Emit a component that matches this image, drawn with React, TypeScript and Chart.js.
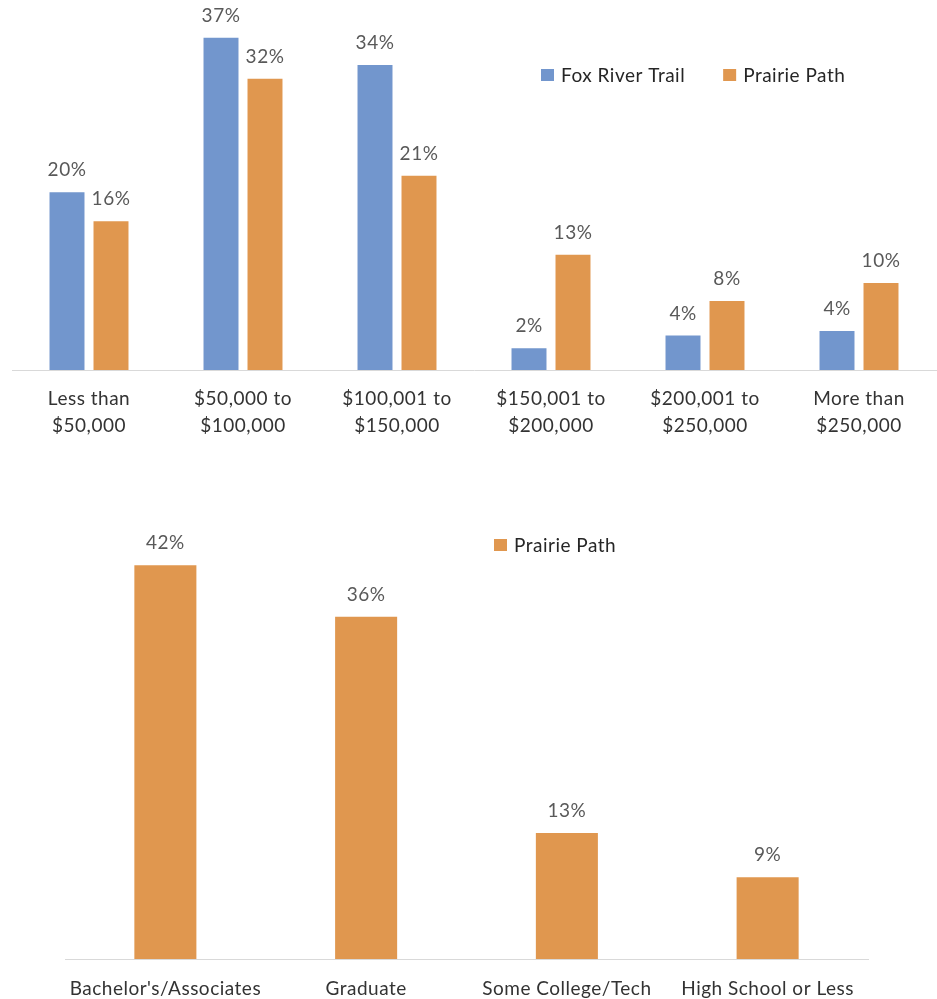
import React, { useEffect, useRef } from "react";
import { Chart, registerables } from "chart.js";

Chart.register(...registerables);

// ---------- Data ----------
const incomeCategories: string[][] = [
  ["Less than", "$50,000"],
  ["$50,000 to", "$100,000"],
  ["$100,001 to", "$150,000"],
  ["$150,001 to", "$200,000"],
  ["$200,001 to", "$250,000"],
  ["More than", "$250,000"],
];
const foxRiverIncome = [19.6, 36.6, 33.6, 2.4, 3.8, 4.3];
const prairieIncome = [16.4, 32.1, 21.4, 12.7, 7.6, 9.6];

const educationCategories = [
  "Bachelor's/Associates",
  "Graduate",
  "Some College/Tech",
  "High School or Less",
];
const prairieEducation = [41.9, 36.4, 13.4, 8.7];

const seriesNames = ["Fox River Trail", "Prairie Path"];
const BLUE = "#7296CD";
const ORANGE = "#E0974F";
const FONT = "Lato, 'Noto Sans', sans-serif";
const FONT_SIZE = 19;
const SPACING = "0.5px";

// ---------- Plugins ----------
const spacingPlugin = {
  id: "letterSpacing",
  beforeInit(chart: any) {
    chart.ctx.letterSpacing = SPACING;
  },
  beforeDraw(chart: any) {
    chart.ctx.letterSpacing = SPACING;
  },
};

const dataLabelPlugin = {
  id: "pctLabels",
  afterDatasetsDraw(chart: any) {
    const ctx = chart.ctx;
    ctx.save();
    ctx.letterSpacing = SPACING;
    ctx.font = `${FONT_SIZE}px ${FONT}`;
    ctx.fillStyle = "#595959";
    ctx.textAlign = "center";
    ctx.textBaseline = "middle";
    chart.data.datasets.forEach((ds: any, i: number) => {
      const meta = chart.getDatasetMeta(i);
      meta.data.forEach((bar: any, j: number) => {
        const v = ds.data[j];
        ctx.fillText(`${Math.round(v)}%`, bar.x, bar.y - 22);
      });
    });
    ctx.restore();
  },
};

const customLegendPlugin = {
  id: "customLegend",
  afterDraw(chart: any, _args: any, opts: any) {
    const ctx = chart.ctx;
    ctx.save();
    ctx.letterSpacing = SPACING;
    ctx.font = `${FONT_SIZE}px ${FONT}`;
    ctx.textBaseline = "middle";
    ctx.textAlign = "left";
    let x = opts.x;
    const y = opts.y;
    chart.data.datasets.forEach((ds: any) => {
      ctx.fillStyle = ds.backgroundColor;
      ctx.fillRect(x, y - 6, 13, 12);
      ctx.fillStyle = "#262626";
      ctx.fillText(ds.label, x + 20, y + 1);
      x += 20 + ctx.measureText(ds.label).width + 38;
    });
    ctx.restore();
  },
};

function IncomeChart() {
  const ref = useRef<HTMLCanvasElement>(null);
  useEffect(() => {
    const chart = new Chart(ref.current!, {
      type: "bar",
      data: {
        labels: incomeCategories,
        datasets: [
          { label: seriesNames[0], data: foxRiverIncome, backgroundColor: BLUE },
          { label: seriesNames[1], data: prairieIncome, backgroundColor: ORANGE },
        ],
      },
      options: {
        animation: false,
        responsive: false,
        maintainAspectRatio: false,
        layout: { padding: { left: 12, right: 1, top: 7, bottom: 0 } },
        datasets: { bar: { categoryPercentage: 0.5714, barPercentage: 0.795 } },
        plugins: {
          legend: { display: false },
          tooltip: { enabled: false },
          customLegend: { x: 541, y: 75 },
        } as any,
        scales: {
          x: {
            grid: { display: false, drawTicks: false },
            border: { display: true, color: "#d9d9d9", width: 1 },
            ticks: {
              color: "#333333",
              font: { family: FONT, size: FONT_SIZE, lineHeight: 27 / FONT_SIZE },
              padding: 15,
              maxRotation: 0,
              autoSkip: false,
            },
            afterFit: (s: any) => {
              s.height = 80;
            },
          },
          y: { display: false, min: 0, max: 40 },
        },
      },
      plugins: [spacingPlugin, dataLabelPlugin, customLegendPlugin],
    });
    return () => chart.destroy();
  }, []);
  return <canvas ref={ref} width={937} height={450} style={{ display: "block" }} />;
}

function EducationChart() {
  const ref = useRef<HTMLCanvasElement>(null);
  useEffect(() => {
    const chart = new Chart(ref.current!, {
      type: "bar",
      data: {
        labels: educationCategories,
        datasets: [
          { label: seriesNames[1], data: prairieEducation, backgroundColor: ORANGE },
        ],
      },
      options: {
        animation: false,
        responsive: false,
        maintainAspectRatio: false,
        layout: { padding: { left: 65, right: 69, top: 39, bottom: 0 } },
        datasets: { bar: { categoryPercentage: 0.309, barPercentage: 1 } },
        plugins: {
          legend: { display: false },
          tooltip: { enabled: false },
          customLegend: { x: 494, y: 545 - 450 },
        } as any,
        scales: {
          x: {
            grid: { display: false, drawTicks: false },
            border: { display: true, color: "#d9d9d9", width: 1 },
            ticks: {
              color: "#333333",
              font: { family: FONT, size: FONT_SIZE, lineHeight: 27 / FONT_SIZE },
              padding: 16,
              maxRotation: 0,
              autoSkip: false,
            },
            afterFit: (s: any) => {
              s.height = 40;
            },
          },
          y: { display: false, min: 0, max: 50 },
        },
      },
      plugins: [spacingPlugin, dataLabelPlugin, customLegendPlugin],
    });
    return () => chart.destroy();
  }, []);
  return <canvas ref={ref} width={937} height={549} style={{ display: "block" }} />;
}

export default function App() {
  return (
    <div
      style={{
        position: "absolute",
        left: 0,
        top: 0,
        width: 937,
        height: 999,
        background: "#ffffff",
        overflow: "hidden",
      }}
    >
      <IncomeChart />
      <EducationChart />
    </div>
  );
}
